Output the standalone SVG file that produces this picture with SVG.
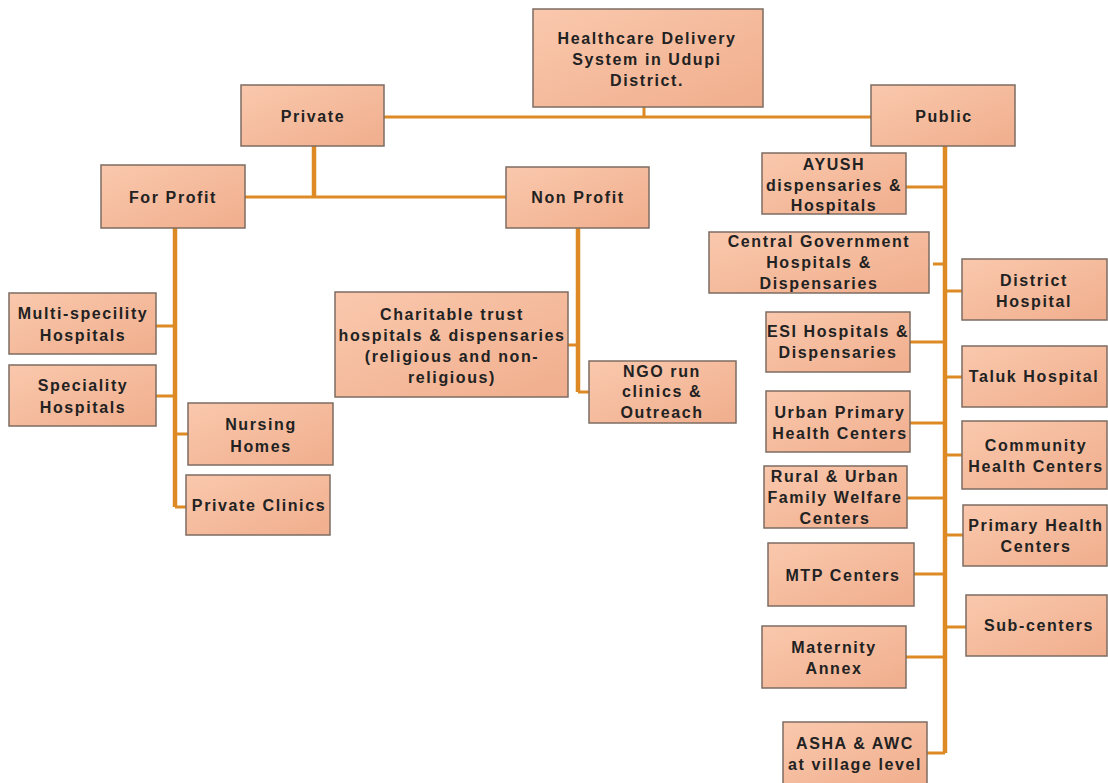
<svg xmlns="http://www.w3.org/2000/svg" width="1108" height="783" viewBox="0 0 1108 783">
<defs>
<linearGradient id="g" x1="0" y1="0" x2="1" y2="1">
<stop offset="0" stop-color="#fac8ad"/>
<stop offset="1" stop-color="#f0ae8d"/>
</linearGradient>
<style>
.b{fill:url(#g);stroke:#7d6c62;stroke-width:1.5}
.t{font-family:"Liberation Sans",Arial,sans-serif;font-weight:bold;font-size:16px;letter-spacing:1.6px;fill:#222;text-anchor:middle}
.c{stroke:#dd8a24;stroke-width:3;fill:none}
.s{stroke:#dd8a24;stroke-width:4.5;fill:none}
</style>
</defs>
<rect width="1108" height="783" fill="#fff"/>
<g id="connectors">
<path class="c" d="M384 117H871M644 107V117"/>
<path class="s" d="M314 146V197"/>
<path class="c" d="M245 197H506"/>
<path class="s" d="M175 228V507"/>
<path class="c" d="M156 326H175M156 396H175M175 434H188M175 507H186"/>
<path class="s" d="M578 228V392"/>
<path class="c" d="M568 345H578M578 392H589"/>
<path class="s" d="M945 146V753"/>
<path class="c" d="M906 187H945M933 264H945M910 342H945M910 423H945M907 498H945M914 574H945M906 657H945M927 753H945"/>
<path class="c" d="M945 291H962M945 377H962M945 455H962M945 535H963M945 627H966"/>
</g>
<g id="n-root"><rect class="b" x="533" y="9" width="230" height="98"/><text class="t" x="647" y="44">Healthcare Delivery<tspan x="647" y="65">System in Udupi</tspan><tspan x="647" y="86">District.</tspan></text></g>
<g id="n-private"><rect class="b" x="241" y="85" width="143" height="61"/><text class="t" x="313" y="122">Private</text></g>
<g id="n-public"><rect class="b" x="871" y="85" width="144" height="61"/><text class="t" x="944" y="122">Public</text></g>
<g id="n-forprofit"><rect class="b" x="101" y="165" width="144" height="63"/><text class="t" x="173" y="203">For Profit</text></g>
<g id="n-nonprofit"><rect class="b" x="506" y="167" width="143" height="61"/><text class="t" x="578" y="203">Non Profit</text></g>
<g id="n-multi"><rect class="b" x="9" y="293" width="147" height="61"/><text class="t" x="83" y="319">Multi-specility<tspan x="83" y="341">Hospitals</tspan></text></g>
<g id="n-speciality"><rect class="b" x="9" y="365" width="147" height="61"/><text class="t" x="83" y="391">Speciality<tspan x="83" y="413">Hospitals</tspan></text></g>
<g id="n-nursing"><rect class="b" x="188" y="403" width="145" height="62"/><text class="t" x="261" y="430">Nursing<tspan x="261" y="452">Homes</tspan></text></g>
<g id="n-clinics"><rect class="b" x="186" y="475" width="144" height="60"/><text class="t" x="259" y="511">Private Clinics</text></g>
<g id="n-charitable"><rect class="b" x="335" y="292" width="233" height="105"/><text class="t" x="452" y="320">Charitable trust<tspan x="452" y="341">hospitals &amp; dispensaries</tspan><tspan x="452" y="362">(religious and non-</tspan><tspan x="452" y="383">religious)</tspan></text></g>
<g id="n-ngo"><rect class="b" x="589" y="361" width="147" height="62"/><text class="t" x="662" y="377">NGO run<tspan x="662" y="397">clinics &amp;</tspan><tspan x="662" y="418">Outreach</tspan></text></g>
<g id="n-ayush"><rect class="b" x="762" y="153" width="144" height="61"/><text class="t" x="834" y="170">AYUSH<tspan x="834" y="191">dispensaries &amp;</tspan><tspan x="834" y="211">Hospitals</tspan></text></g>
<g id="n-central"><rect class="b" x="709" y="232" width="220" height="61"/><text class="t" x="819" y="247">Central Government<tspan x="819" y="268">Hospitals &amp;</tspan><tspan x="819" y="289">Dispensaries</tspan></text></g>
<g id="n-esi"><rect class="b" x="766" y="312" width="144" height="60"/><text class="t" x="838" y="337">ESI Hospitals &amp;<tspan x="838" y="358">Dispensaries</tspan></text></g>
<g id="n-urban"><rect class="b" x="766" y="391" width="144" height="61"/><text class="t" x="840" y="418">Urban Primary<tspan x="840" y="439">Health Centers</tspan></text></g>
<g id="n-rural"><rect class="b" x="764" y="466" width="143" height="62"/><text class="t" x="835" y="482">Rural &amp; Urban<tspan x="835" y="503">Family Welfare</tspan><tspan x="835" y="524">Centers</tspan></text></g>
<g id="n-mtp"><rect class="b" x="768" y="543" width="146" height="63"/><text class="t" x="843" y="581">MTP Centers</text></g>
<g id="n-maternity"><rect class="b" x="762" y="626" width="144" height="62"/><text class="t" x="834" y="653">Maternity<tspan x="834" y="674">Annex</tspan></text></g>
<g id="n-asha"><rect class="b" x="783" y="722" width="144" height="64"/><text class="t" x="855" y="749">ASHA &amp; AWC<tspan x="855" y="770">at village level</tspan></text></g>
<g id="n-district"><rect class="b" x="962" y="259" width="145" height="61"/><text class="t" x="1034" y="286">District<tspan x="1034" y="307">Hospital</tspan></text></g>
<g id="n-taluk"><rect class="b" x="962" y="346" width="145" height="61"/><text class="t" x="1034" y="382">Taluk Hospital</text></g>
<g id="n-community"><rect class="b" x="962" y="421" width="145" height="68"/><text class="t" x="1036" y="451">Community<tspan x="1036" y="472">Health Centers</tspan></text></g>
<g id="n-phc"><rect class="b" x="963" y="505" width="144" height="61"/><text class="t" x="1036" y="531">Primary Health<tspan x="1036" y="552">Centers</tspan></text></g>
<g id="n-sub"><rect class="b" x="966" y="595" width="141" height="61"/><text class="t" x="1039" y="631">Sub-centers</text></g>
</svg>
